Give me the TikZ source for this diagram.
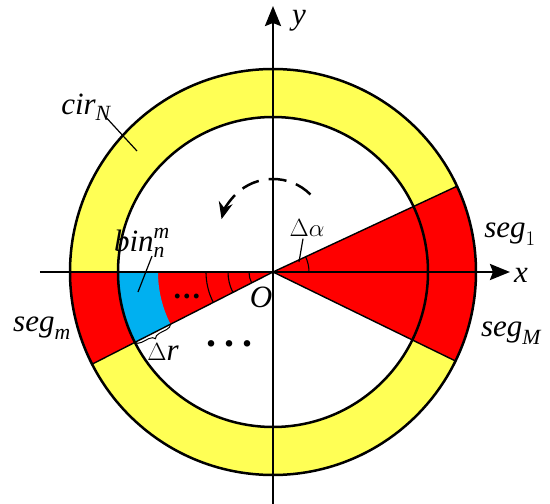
\documentclass[tikz,border=0pt]{standalone}
\usepackage{fontspec}
\setmainfont{Liberation Serif}
\usetikzlibrary{arrows.meta,calc,decorations.pathreplacing}
\definecolor{Ring}{HTML}{FFFF55}
\definecolor{Seg}{HTML}{FF0000}
\definecolor{Bin}{HTML}{00B0F0}
\tikzset{
  ring/.style={fill=Ring},
  segfill/.style={fill=Seg},
  binfill/.style={fill=Bin},
  ringline/.style={draw=black,line width=2.5pt},
  edge/.style={draw=black,line width=1.4pt},
  binline/.style={draw=black,line width=1.1pt},
  axis/.style={-{Stealth[length=20pt,width=16pt,inset=3pt]},draw=black,line width=2.5pt},
  turn/.style={-{Stealth[length=17pt,width=14pt]},draw=black,line width=2.5pt,dash pattern=on 18pt off 10pt},
  leader/.style={draw=black,line width=1.2pt},
  brace/.style={draw=black,line width=1pt,decorate,decoration={brace,amplitude=6pt}},
  lbl/.style={font=\fontsize{31}{36}\selectfont,inner sep=0pt}
}
\begin{document}
\begin{tikzpicture}[x=1pt,y=1pt]
      \useasboundingbox (-273,-232) rectangle (277,272);
      \coordinate (O) at (0,0);
      \fill[ring,even odd rule] (O) circle (203) (O) circle (155);
      \fill[segfill] (O) -- (-26:203) arc (-26:25:203) -- cycle;
      \fill[segfill] (O) -- (180:203) arc (180:207:203) -- cycle;
      \fill[binfill] (180:115) arc (180:207:115) -- (207:155) arc (207:180:155) -- cycle;
      \foreach \r in {24,45,67} \draw[binline] (180:\r) arc (180:207:\r);
      \draw[edge] (O) -- (25:203) (O) -- (-26:203) (O) -- (207:203);
      \draw[ringline] (O) circle (203) (O) circle (155);
      \draw[binline] (36,0) arc (0:25:36);

      \coordinate (xl) at (-233,0);
      \coordinate (xr) at (237,0);
      \coordinate (yb) at (0,-232);
      \coordinate (yt) at (0,266);
      \draw[axis] (xl) -- (xr);
      \draw[axis] (yb) -- (yt);
      \node[lbl] (xlbl) at (248,-3) {$\mathit{x}$};
      \node[lbl] (ylbl) at (26,251) {$\mathit{y}$};
      \node[lbl] (olbl) at (-12,-25) {$\mathit{O}$};

      \draw[turn] (0,40) ++(45:53) arc (45:166:53);

      \node[lbl] (dalbl) at (34,44) {$\Delta\alpha$};
      \coordinate (dapt) at (26,10);
      \draw[leader] ($(dalbl.south)+(-4,-2)$) -- (dapt);

      \node[lbl] (cirlbl) at (-187,165) {$\mathit{cir}_{\mathit{N}}$};
      \coordinate (cirpt) at (-136,121);
      \draw[leader] ($(cirlbl.south east)+(-4,2)$) -- (cirpt);

      \node[lbl] (binlbl) at (-131,29) {$\mathit{bin}_{\mathit{n}}^{\mathit{m}}$};
      \coordinate (binpt) at (-135,-20);
      \draw[leader] ($(binlbl.south)+(10,2)$) -- (binpt);

      \node[lbl] (seg1) at (237,38) {$\mathit{seg}_1$};
      \node[lbl] (segM) at (238,-61) {$\mathit{seg}_{\mathit{M}}$};
      \node[lbl] (segm) at (-231,-56) {$\mathit{seg}_{\mathit{m}}$};

      \draw[brace] (207:115) -- (207:155);
      \node[lbl] (drlbl) at (-110,-80) {$\Delta\mathit{r}$};

      \node[font=\fontsize{30}{34}\selectfont,inner sep=0pt] (fewdots) at (-86,-24) {\textbf{.\hspace{2pt}.\hspace{2pt}.}};
      \node[font=\fontsize{40}{44}\selectfont,inner sep=0pt] (moredots) at (-43,-72) {\textbf{.\hspace{8pt}.\hspace{8pt}.}};
    \end{tikzpicture}
\end{document}
